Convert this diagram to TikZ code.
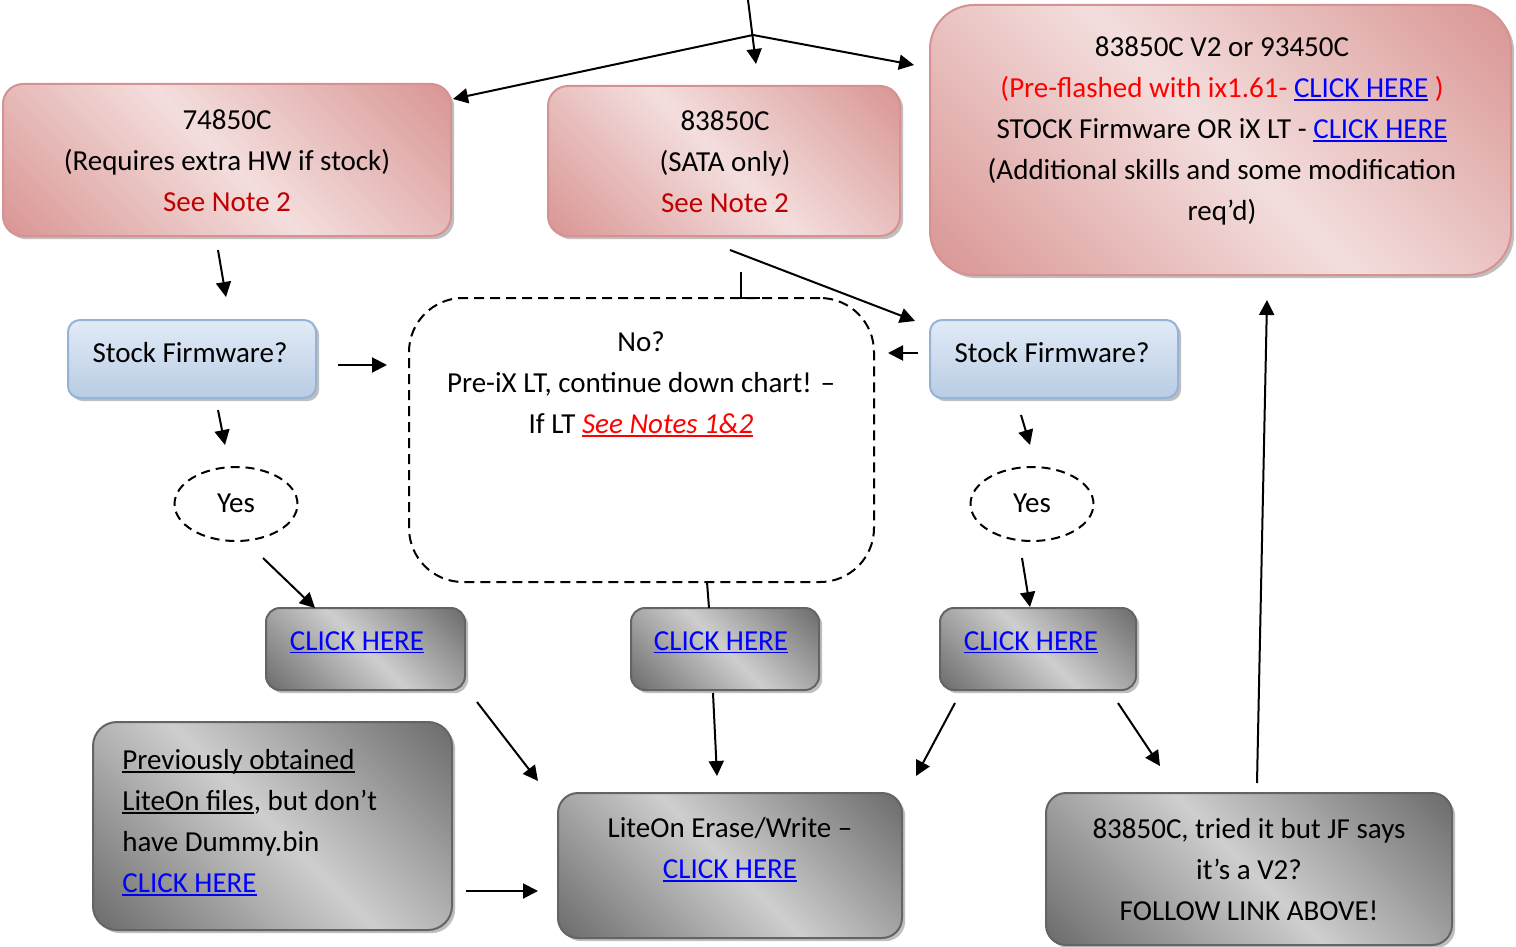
\documentclass[tikz,border=0pt]{standalone}
\usepackage{fontspec}
\setmainfont{Carlito}
\usetikzlibrary{arrows.meta,shapes.geometric,shadows}

\definecolor{pinkdark}{RGB}{217,150,148}
\definecolor{pinklight}{RGB}{243,222,221}
\definecolor{pinkborder}{RGB}{214,146,145}
\definecolor{graydark}{RGB}{108,108,108}
\definecolor{graylight}{RGB}{206,206,206}
\definecolor{grayborder}{RGB}{100,100,100}
\definecolor{bluetop}{RGB}{226,235,247}
\definecolor{bluebot}{RGB}{184,204,228}
\definecolor{blueborder}{RGB}{149,179,215}
\definecolor{darkred}{RGB}{192,0,0}
\definecolor{brightred}{RGB}{255,0,0}
\definecolor{linkblue}{RGB}{0,0,255}

\pgfdeclarehorizontalshading{pinkdiag}{100bp}{color(0bp)=(pinkdark); color(15bp)=(pinkdark); color(50bp)=(pinklight); color(85bp)=(pinkdark); color(100bp)=(pinkdark)}
\pgfdeclarehorizontalshading{graydiag}{100bp}{color(0bp)=(graydark); color(15bp)=(graydark); color(50bp)=(graylight); color(85bp)=(graydark); color(100bp)=(graydark)}

\newcommand\myul[1]{\leavevmode\setbox0=\hbox{#1}\rlap{\rule[-1.6pt]{\wd0}{0.9pt}}\box0}
\newcommand\lnk[1]{{\color{linkblue}\myul{#1}}}

\begin{document}
\begin{tikzpicture}[x=0.5pt,y=-0.5pt,
  shad/.style={drop shadow={shadow xshift=1.6pt,shadow yshift=-1.6pt,fill=black!45,opacity=0.55}},
  pinkbox/.style={shad,draw=pinkborder,line width=1pt,shading=pinkdiag,shading angle=45,rounded corners=10pt},
  graybox/.style={shad,draw=grayborder,line width=1pt,shading=graydiag,shading angle=45,rounded corners=7pt},
  bluebox/.style={shad,draw=blueborder,line width=1pt,top color=bluetop,bottom color=bluebot,rounded corners=6pt},
  txt/.style={align=center,inner sep=0pt,font=\fontsize{14.5}{20.5}\selectfont,
    execute at begin node=\strut,execute at end node=\strut},
  dashbox/.style={draw,line width=1pt,dash pattern=on 5pt off 3pt,rounded corners=27pt},
  yesell/.style={ellipse,draw,line width=1pt,dash pattern=on 4.5pt off 3pt,inner sep=0pt,
    minimum width=61.5pt,minimum height=37pt,font=\fontsize{14.5}{20.5}\selectfont,
    execute at begin node=\strut},
  arr/.style={line width=1pt,-{Triangle[length=7.5pt,width=7.5pt]}},
  ln/.style={line width=1pt}]

\fill[white] (0,0) rectangle (1516,947);
\useasboundingbox (0,0) rectangle (1516,947);

% ---------- pink boxes ----------
\node[pinkbox,minimum width=224pt,minimum height=76pt] (A) at (227,160) {};
\node[txt] (At) at (227,167) {74850C\\(Requires extra HW if stock)\\\textcolor{darkred}{See Note 2}};

\node[pinkbox,minimum width=176pt,minimum height=75pt] (B) at (724,161) {};
\node[txt] (Bt) at (725,168) {83850C\\(SATA only)\\\textcolor{darkred}{See Note 2}};

\node[pinkbox,rounded corners=22pt,minimum width=290.5pt,minimum height=135pt] (C) at (1220.5,140) {};
\node[txt] (Ct) at (1222,135) {83850C V2 or 93450C\\
  {\color{brightred}(Pre-flashed with ix1.61- }\lnk{CLICK HERE}{\color{brightred}\ )}\\
  STOCK Firmware OR iX LT - \lnk{CLICK HERE}\\
  (Additional skills and some modification\\req’d)};

% ---------- blue boxes ----------
\node[bluebox,minimum width=124pt,minimum height=39pt] (D) at (192,359) {};
\node[txt] (Dt) at (190,354) {Stock Firmware?};
\node[bluebox,minimum width=124pt,minimum height=39pt] (E) at (1054,359) {};
\node[txt] (Et) at (1052,354) {Stock Firmware?};

% ---------- dashed box ----------
\node[dashbox,minimum width=232.5pt,minimum height=142pt] (F) at (641.5,440) {};
\node[txt] (Ft) at (641,389) {No?\\Pre-iX LT, continue down chart! –\\If LT {\color{brightred}\myul{\itshape See Notes 1\&2}}};

% ---------- Yes ellipses ----------
\node[yesell] (Y1) at (236,504) {Yes};
\node[yesell] (Y2) at (1032,504) {Yes};

% ---------- gray boxes ----------
\node[graybox,minimum width=99.5pt,minimum height=41pt] (G1) at (365.5,649) {};
\node[txt] (G1t) at (357,642) {\lnk{CLICK HERE}};
\node[graybox,minimum width=94pt,minimum height=41pt] (G2) at (725,649) {};
\node[txt] (G2t) at (721,642) {\lnk{CLICK HERE}};
\node[graybox,minimum width=98pt,minimum height=41pt] (G3) at (1038,649) {};
\node[txt] (G3t) at (1031,642) {\lnk{CLICK HERE}};

\node[graybox,rounded corners=12pt,minimum width=179.5pt,minimum height=104pt] (H) at (272.5,826) {};
\node[txt,align=left,anchor=west] (Ht) at (122,827) {\myul{Previously obtained}\\\myul{LiteOn files}, but don’t\\have Dummy.bin\\\lnk{CLICK HERE}};

\node[graybox,rounded corners=10pt,minimum width=172pt,minimum height=72.5pt] (I) at (730,865.5) {};
\node[txt] (It) at (730,854) {LiteOn Erase/Write –\\\lnk{CLICK HERE}};

\node[graybox,rounded corners=10pt,minimum width=203pt,minimum height=76pt] (J) at (1249,869) {};
\node[txt] (Jt) at (1249,876) {83850C, tried it but JF says\\it’s a V2?\\FOLLOW LINK ABOVE!};

% ---------- connector end points ----------
\coordinate (top) at (748,0);
\coordinate (jn) at (753,35);
\coordinate (tipB) at (756,64);
\coordinate (tipA) at (453,99);
\coordinate (tipC) at (914,65);
\coordinate (a4s) at (218,250);  \coordinate (a4e) at (226,297);
\coordinate (a5s) at (730,250);  \coordinate (a5e) at (915,321);
\coordinate (Ls) at (741,272);   \coordinate (Lc) at (741,298); \coordinate (Le) at (760,298);
\coordinate (a7s) at (338,365);  \coordinate (a7e) at (387,365);
\coordinate (a8s) at (918,353);  \coordinate (a8e) at (888,353);
\coordinate (a9s) at (218,410);  \coordinate (a9e) at (225,445);
\coordinate (a10s) at (263,558); \coordinate (a10e) at (315,608);
\coordinate (a11s) at (707,582); \coordinate (a11e) at (709,608);
\coordinate (a12s) at (1021,415);\coordinate (a12e) at (1030,445);
\coordinate (a13s) at (1022,558);\coordinate (a13e) at (1030,607);
\coordinate (a14s) at (477,702); \coordinate (a14e) at (538,781);
\coordinate (a15s) at (713,693); \coordinate (a15e) at (717,776);
\coordinate (a16s) at (955,703); \coordinate (a16e) at (916,776);
\coordinate (a17s) at (1118,703);\coordinate (a17e) at (1160,766);
\coordinate (a18s) at (466,891); \coordinate (a18e) at (538,891);
\coordinate (a19s) at (1257,783);\coordinate (a19e) at (1267,300);

% ---------- connectors ----------
\draw[arr] (top) -- (tipB);
\draw[arr] (jn) -- (tipA);
\draw[arr] (jn) -- (tipC);
\draw[arr] (a4s) -- (a4e);
\draw[arr] (a5s) -- (a5e);
\draw[ln] (Ls) -- (Lc) -- (Le);
\draw[arr] (a7s) -- (a7e);
\draw[arr] (a8s) -- (a8e);
\draw[arr] (a9s) -- (a9e);
\draw[arr] (a10s) -- (a10e);
\draw[ln] (a11s) -- (a11e);
\draw[arr] (a12s) -- (a12e);
\draw[arr] (a13s) -- (a13e);
\draw[arr] (a14s) -- (a14e);
\draw[arr] (a15s) -- (a15e);
\draw[arr] (a16s) -- (a16e);
\draw[arr] (a17s) -- (a17e);
\draw[arr] (a18s) -- (a18e);
\draw[arr] (a19s) -- (a19e);
\end{tikzpicture}
\end{document}
